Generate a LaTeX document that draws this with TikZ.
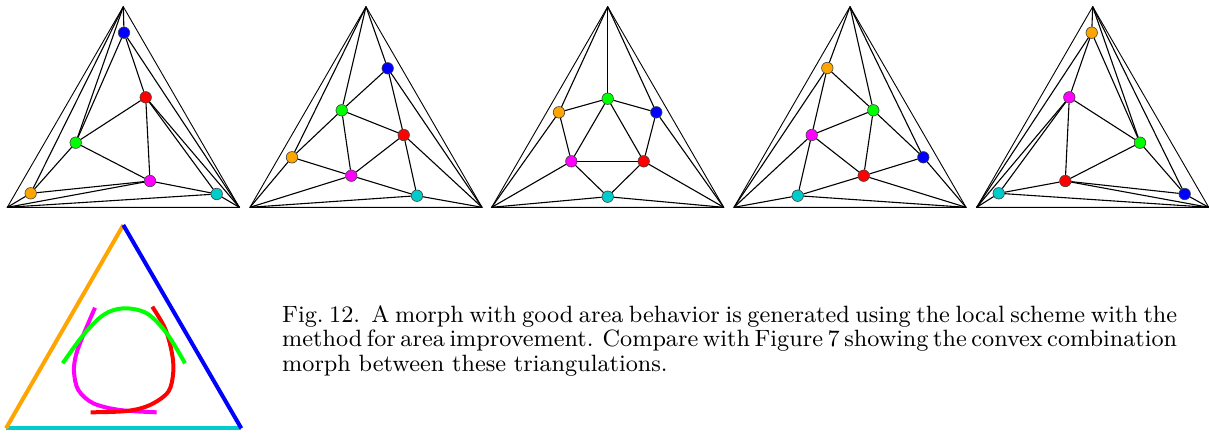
\documentclass[tikz,border=0pt]{standalone}
\usepackage{tikz}
\usepackage{graphicx}
\definecolor{vblue}{RGB}{0,0,255}
\definecolor{vred}{RGB}{255,0,0}
\definecolor{vgreen}{RGB}{0,255,0}
\definecolor{vmag}{RGB}{255,0,255}
\definecolor{vorange}{RGB}{255,165,0}
\definecolor{vcyan}{RGB}{0,204,204}
\tikzset{
  edge/.style={line width=1.1pt, black},
  outer/.style={line width=0.9pt, black},
  vtx/.style={circle, inner sep=0pt, minimum size=11.5pt, draw=black!75, line width=0.6pt},
  trail/.style={line width=4pt},
}
% #1 index, #2 left x, #3 blue, #4 red, #5 green, #6 magenta, #7 orange, #8 cyan
\newcommand\mkframe[8]{%
  \coordinate (A#1) at (#2+116,6.7);
  \coordinate (L#1) at (#2,207.3);
  \coordinate (R#1) at (#2+232,207.3);
  \node[vtx,fill=vblue]   (b#1) at (#3) {};
  \node[vtx,fill=vred]    (r#1) at (#4) {};
  \node[vtx,fill=vgreen]  (g#1) at (#5) {};
  \node[vtx,fill=vmag]    (m#1) at (#6) {};
  \node[vtx,fill=vorange] (o#1) at (#7) {};
  \node[vtx,fill=vcyan]   (c#1) at (#8) {};
  \draw[outer] (A#1) -- (L#1) -- (R#1) -- cycle;
  \draw[edge] (A#1) -- (g#1);
  \draw[edge] (A#1) -- (o#1);
  \draw[edge] (A#1) -- (b#1);
  \draw[edge] (L#1) -- (o#1);
  \draw[edge] (L#1) -- (m#1);
  \draw[edge] (L#1) -- (c#1);
  \draw[edge] (R#1) -- (b#1);
  \draw[edge] (R#1) -- (r#1);
  \draw[edge] (R#1) -- (c#1);
  \draw[edge] (o#1) -- (g#1);
  \draw[edge] (g#1) -- (b#1);
  \draw[edge] (o#1) -- (m#1);
  \draw[edge] (b#1) -- (r#1);
  \draw[edge] (m#1) -- (r#1);
  \draw[edge] (g#1) -- (m#1);
  \draw[edge] (g#1) -- (r#1);
  \draw[edge] (m#1) -- (c#1);
  \draw[edge] (r#1) -- (c#1);
}
\newlength\capw
\setlength\capw{341.6pt}
\begin{document}
\begin{tikzpicture}[x=1pt,y=-1pt]
\useasboundingbox (0,0) rectangle (1209,434);
\fill[white] (0,0) rectangle (1209,434);

\mkframe{1}{7.3}{124,32.7}{145.7,97.3}{75.7,142.7}{150,181}{30.7,193.3}{216.7,194}
\mkframe{2}{250}{387.7,68.3}{403.7,135}{341.7,110.3}{351.3,175.7}{292,157.3}{417,195.7}
\mkframe{3}{491.7}{656.3,112.3}{643.7,161.3}{607.7,98.7}{571.3,161.3}{559,112.3}{607.7,196.7}
\mkframe{4}{734}{923.3,157.3}{863.7,175.7}{873.3,110.3}{811.7,135}{827.3,68}{797.7,195.7}
\mkframe{5}{976.7}{1184.7,194}{1065.3,181}{1140,142.7}{1069.3,97.3}{1091.7,32.7}{998.7,193.3}

% trajectory figure
\coordinate (TA) at (123.3,225);
\coordinate (TL) at (6,428.3);
\coordinate (TR) at (241.3,428.3);
\draw[trail, vcyan] (TL) -- (TR);
\draw[trail, vorange] (TL) -- (TA);
\draw[trail, vblue] (TA) -- (TR);
\draw[trail, vmag] plot[smooth, tension=0.55] coordinates {(95,307.7) (83.3,335) (76,355) (74,371.7) (78.3,390) (93.3,403.3) (120,410) (156.7,412.3)};
\draw[trail, vred] plot[smooth, tension=0.55] coordinates {(152.3,306.7) (165,328.3) (171.7,351.7) (173.3,371.7) (168.3,391.7) (150,405) (126.7,411) (90.7,412.3)};
\draw[trail, vgreen] plot[smooth, tension=0.55] coordinates {(62.7,363.3) (83.3,335) (103.3,315) (123.3,308.3) (146.7,313.3) (166.7,333.3) (185,363.3)};

\node[anchor=base west, inner sep=0pt] (cap) at (282,322)
 {\scalebox{2.62}{\parbox[t]{\capw}{\fontsize{9}{9.43}\selectfont
  \spaceskip=0.333em plus 0.5em minus 0.2em
  \xspaceskip=0.6em plus 0.5em minus 0.25em
  \makebox[\capw][s]{Fig.\ 12.\ \ A morph with good area behavior is generated using the local scheme with the}\\
  \makebox[\capw][s]{method for area improvement.\ \ Compare with Figure 7 showing the convex combination}\\
  morph between these triangulations.}}};
\end{tikzpicture}
\end{document}
